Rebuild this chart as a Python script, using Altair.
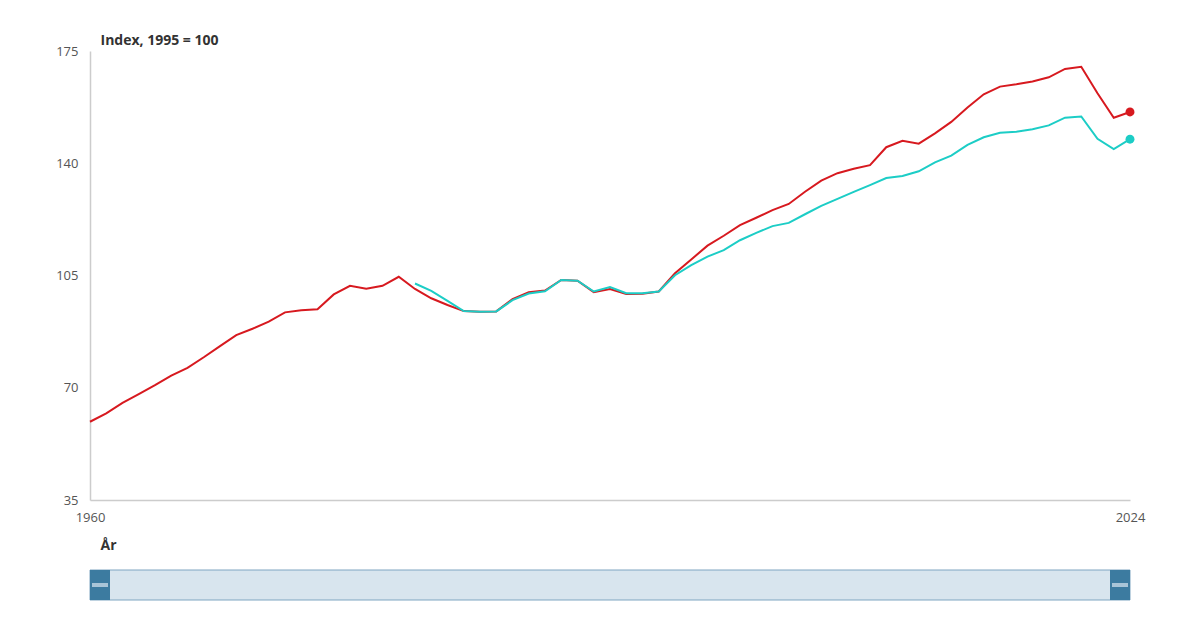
import altair as alt
import pandas as pd

years_a = list(range(1960, 2025))
series_a = [59.4, 62.0, 65.3, 68.0, 70.8, 73.8, 76.2, 79.5, 83.0, 86.4,
            88.4, 90.6, 93.5, 94.2, 94.5, 99.1, 101.8, 100.9, 101.8, 104.6,
            100.8, 97.9, 95.8, 93.9, 93.7, 93.8, 97.6, 99.8, 100.3, 103.6,
            103.4, 99.8, 100.8, 99.2, 99.3, 100.0, 105.7, 110.0, 114.3, 117.4,
            120.7, 123.0, 125.4, 127.3, 131.1, 134.6, 136.9, 138.3, 139.4, 145.0,
            147.0, 146.1, 149.3, 152.9, 157.4, 161.5, 163.9, 164.6, 165.5, 166.8,
            169.4, 170.1, 161.8, 154.2, 156.0]

years_b = list(range(1980, 2025))
series_b = [102.5, 100.2, 97.1, 93.9, 93.7, 93.8, 97.3, 99.4, 100.1, 103.6,
            103.4, 100.0, 101.4, 99.5, 99.5, 100.0, 105.1, 108.2, 110.9, 112.9,
            116.0, 118.3, 120.4, 121.4, 124.1, 126.7, 128.9, 131.1, 133.2, 135.4,
            136.0, 137.5, 140.3, 142.4, 145.7, 148.1, 149.5, 149.8, 150.6, 151.8,
            154.2, 154.6, 147.6, 144.4, 147.5]

names = ["Serie A", "Serie B"]
colors = ["#d7191f", "#1ccdc6"]
y_ticks = [35, 70, 105, 140, 175]
x_ticks = [1960, 2024]

df = pd.concat([
    pd.DataFrame({"År": years_a, "Index": series_a, "Serie": names[0]}),
    pd.DataFrame({"År": years_b, "Index": series_b, "Serie": names[1]}),
])
last = df[df["År"] == df["År"].max()]

FONT = "Open Sans"

x_enc = alt.X("År:Q",
              scale=alt.Scale(domain=[x_ticks[0], x_ticks[-1]], nice=False, zero=False),
              axis=alt.Axis(values=x_ticks, format="d", title="År", grid=False, ticks=False,
                            domainColor="#cccccc", domainWidth=1.5, labelColor="#555555",
                            labelFontSize=13, labelPadding=11, labelFont=FONT,
                            titleFont=FONT, titleFontSize=14, titleFontWeight="bold",
                            titleColor="#333333", titleAnchor="start", titleAlign="left",
                            titleBaseline="middle", titleX=10, titleY=45, labelFlush=False))
y_enc = alt.Y("Index:Q",
              scale=alt.Scale(domain=[y_ticks[0], y_ticks[-1]], nice=False, zero=False),
              axis=alt.Axis(values=y_ticks, title="Index, 1995 = 100", grid=False, ticks=False,
                            domainColor="#cccccc", domainWidth=1.5, labelColor="#555555",
                            labelFontSize=13, labelPadding=12, labelFont=FONT,
                            titleFont=FONT, titleFontSize=14, titleFontWeight="bold",
                            titleColor="#333333", titleAngle=0, titleAlign="left",
                            titleBaseline="middle", titleX=10, titleY=-11))
color_enc = alt.Color("Serie:N", scale=alt.Scale(domain=names, range=colors), legend=None)

lines = alt.Chart(df).mark_line(strokeWidth=2).encode(x=x_enc, y=y_enc, color=color_enc,
                                                     detail="Serie:N")
dots = alt.Chart(last).mark_circle(size=80, opacity=1).encode(x="År:Q", y="Index:Q",
                                                               color=color_enc)

# navigator bar (decorative scrollbar below the chart)
nav_df = pd.DataFrame({"a": [0]})
nav_bg = alt.Chart(nav_df).mark_rect(fill="#d8e5ee", stroke="#7ea5c1", strokeWidth=1).encode(
    x=alt.value(0), x2=alt.value(1040), y=alt.value(519), y2=alt.value(549))
nav_l = alt.Chart(nav_df).mark_rect(fill="#3c7ba0").encode(
    x=alt.value(0), x2=alt.value(20), y=alt.value(519), y2=alt.value(549))
nav_r = alt.Chart(nav_df).mark_rect(fill="#3c7ba0").encode(
    x=alt.value(1020), x2=alt.value(1040), y=alt.value(519), y2=alt.value(549))
grip_l = alt.Chart(nav_df).mark_rule(stroke="#a8c4d7", strokeWidth=4).encode(
    x=alt.value(2), x2=alt.value(18), y=alt.value(534))
grip_r = alt.Chart(nav_df).mark_rule(stroke="#a8c4d7", strokeWidth=4).encode(
    x=alt.value(1022), x2=alt.value(1038), y=alt.value(534))

chart = alt.layer(lines, dots, nav_bg, nav_l, nav_r, grip_l, grip_r).properties(
    width=1040, height=449,
    autosize=alt.AutoSizeParams(type="none"),
    padding={"left": 82, "top": 43, "right": 62, "bottom": 114},
    background="white",
).configure_view(stroke=None)

chart.save("out.html", embed_options={"renderer": "svg", "actions": False})
